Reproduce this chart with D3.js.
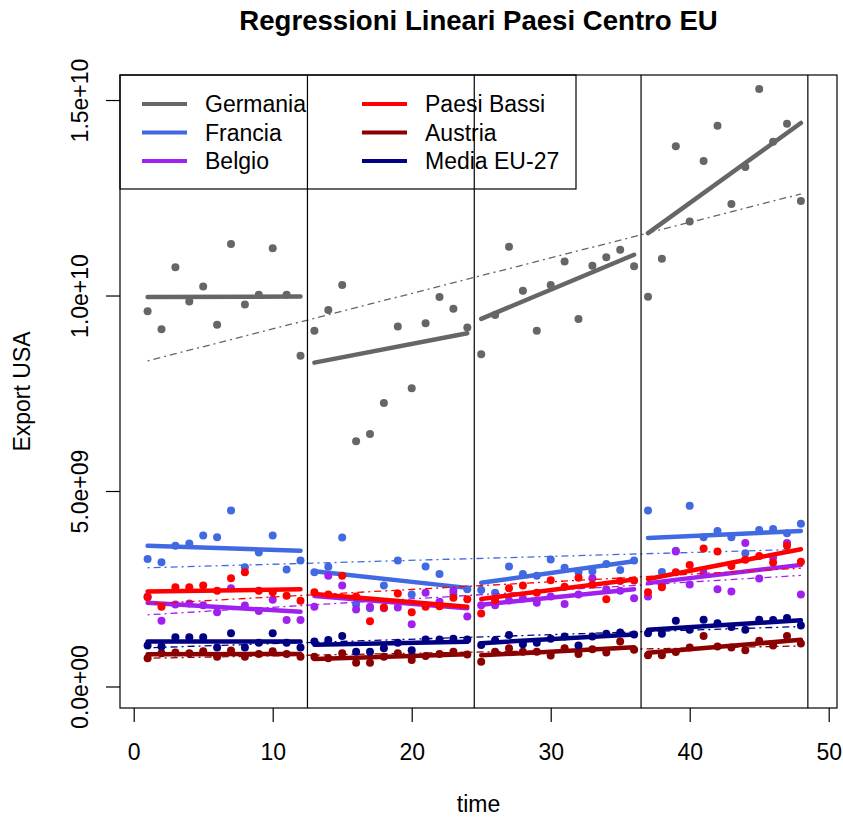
<!DOCTYPE html>
<html>
<head>
<meta charset="utf-8">
<script src="https://cdn.jsdelivr.net/npm/d3@7"></script>
<style>
  body { margin: 0; background: white; }
  text { font-family: "Liberation Sans", Arial, sans-serif; }
</style>
</head>
<body>
<div id="chart"></div>
<script>
// export values in billions (1e9)
const time = [1, 2, 3, 4, 5, 6, 7, 8, 9, 10, 11, 12,
  13, 14, 15, 16, 17, 18, 19, 20, 21, 22, 23, 24,
  25, 26, 27, 28, 29, 30, 31, 32, 33, 34, 35, 36,
  37, 38, 39, 40, 41, 42, 43, 44, 45, 46, 47, 48];

const germania = [9.60, 9.14, 10.72, 9.85, 10.23, 9.25, 11.32, 9.77, 10.02, 11.21, 10.02, 8.46,
  9.10, 9.63, 10.27, 6.27, 6.46, 7.25, 9.21, 7.63, 9.29, 9.96, 9.66, 9.18,
  8.50, 9.50, 11.25, 10.12, 9.10, 10.27, 10.87, 9.40, 10.76, 10.98, 11.17, 10.75,
  9.97, 10.94, 13.82, 11.89, 13.44, 14.34, 12.34, 13.29, 15.28, 13.93, 14.39, 12.42];

const francia = [3.26, 3.18, 3.60, 3.66, 3.86, 3.82, 4.50, 3.05, 3.43, 3.86, 2.99, 3.22,
  2.92, 3.06, 3.81, 2.10, 2.00, 2.58, 3.22, 2.35, 3.07, 2.88, 2.35, 2.49,
  2.47, 2.40, 3.07, 2.88, 2.83, 3.25, 3.04, 2.92, 2.95, 3.13, 2.98, 3.22,
  4.50, 2.93, 3.47, 4.62, 3.82, 3.98, 3.82, 3.41, 4.00, 4.03, 3.92, 4.16];

const belgio = [2.30, 1.68, 2.10, 2.12, 2.08, 1.90, 2.51, 2.07, 1.93, 2.22, 1.70, 1.70,
  2.04, 2.83, 2.58, 1.97, 2.04, 2.00, 2.02, 1.59, 2.40, 2.17, 2.45, 1.79,
  2.08, 2.08, 2.20, 2.25, 2.14, 2.30, 2.11, 2.35, 2.77, 2.49, 2.45, 2.26,
  2.30, 2.60, 3.45, 2.61, 2.90, 2.49, 2.43, 3.67, 2.76, 3.30, 3.67, 2.35];

const paesiBassi = [2.28, 2.04, 2.54, 2.54, 2.58, 2.45, 2.77, 2.92, 2.45, 2.41, 2.32, 2.19,
  2.41, 2.35, 2.83, 2.30, 1.67, 2.02, 2.38, 1.90, 2.04, 2.05, 2.27, 2.23,
  1.87, 2.20, 2.51, 2.58, 2.40, 2.72, 2.55, 2.78, 2.60, 2.23, 2.70, 2.71,
  2.41, 2.54, 2.92, 3.11, 3.53, 3.45, 3.08, 3.24, 3.34, 3.17, 3.60, 3.19];

const austria = [0.72, 0.85, 0.87, 0.85, 0.90, 0.76, 0.92, 0.76, 0.83, 0.90, 0.83, 0.76,
  0.76, 0.72, 0.85, 0.61, 0.61, 0.76, 0.85, 0.68, 0.78, 0.83, 0.89, 0.82,
  0.63, 0.89, 0.98, 0.89, 0.89, 0.79, 0.98, 0.83, 0.95, 0.87, 1.15, 0.94,
  0.80, 0.80, 0.88, 1.00, 1.29, 1.02, 1.00, 0.93, 1.17, 1.05, 1.29, 1.10];

const mediaEU = [1.05, 1.02, 1.26, 1.26, 1.26, 1.00, 1.36, 1.00, 1.12, 1.36, 1.12, 1.00,
  1.15, 1.19, 1.29, 0.89, 0.89, 0.98, 1.12, 0.93, 1.20, 1.20, 1.22, 1.20,
  1.06, 1.18, 1.32, 1.08, 1.12, 1.22, 1.28, 1.05, 1.28, 1.35, 1.38, 1.33,
  1.36, 1.35, 1.68, 1.45, 1.71, 1.62, 1.52, 1.45, 1.71, 1.70, 1.75, 1.56];

const seriesNames = ["Germania", "Francia", "Belgio", "Paesi Bassi", "Austria", "Media EU-27"];
const seriesValues = [germania, francia, belgio, paesiBassi, austria, mediaEU];
const seriesColors = ["#666666", "#4169E1", "#A020F0", "#FF0000", "#8B0000", "#000080"];

// periodi per le regressioni a tratti
const periods = [[1, 12], [13, 24], [25, 36], [37, 48]];
const breakLines = [12.5, 24.5, 36.5, 48.5];

const xTicks = [0, 10, 20, 30, 40, 50];
const yTicks = [0, 5, 10, 15];

const width = 843, height = 821;
const box = { left: 120, right: 837, top: 75, bottom: 708 };

const svg = d3.select("#chart").append("svg")
  .attr("width", width)
  .attr("height", height)
  .style("background", "white");

const x = d3.scaleLinear().domain([-0.986, 50.597]).range([box.left, box.right]);
const y = d3.scaleLinear().domain([-0.55, 15.64]).range([box.bottom, box.top]);

// minimi quadrati
function linFit(xs, ys) {
  const mx = d3.mean(xs), my = d3.mean(ys);
  let sxy = 0, sxx = 0;
  xs.forEach((xi, i) => { sxy += (xi - mx) * (ys[i] - my); sxx += (xi - mx) ** 2; });
  const b = sxy / sxx;
  return { a: my - b * mx, b: b };
}

// formato stile R: 1.5e+10
function sciFmt(v) {
  const s = (v * 1e9).toExponential(1);
  const [m, e] = s.split("e");
  const sign = e[0] === "-" ? "-" : "+";
  const digits = e.replace(/[+-]/, "").padStart(2, "0");
  return m + "e" + sign + digits;
}

const plot = svg.append("g");

seriesValues.forEach((vals, si) => {
  const col = seriesColors[si];
  const g = plot.append("g");

  g.selectAll("circle")
    .data(vals)
    .enter()
    .append("circle")
    .attr("cx", (d, i) => x(time[i]))
    .attr("cy", d => y(d))
    .attr("r", 4)
    .attr("fill", col);

  // regressioni per periodo
  periods.forEach(p => {
    const idx = time.map((t, i) => i).filter(i => time[i] >= p[0] && time[i] <= p[1]);
    const xs = idx.map(i => time[i]);
    const ys = idx.map(i => vals[i]);
    const fit = linFit(xs, ys);
    g.append("line")
      .attr("x1", x(p[0]))
      .attr("x2", x(p[1]))
      .attr("y1", y(fit.a + fit.b * p[0]))
      .attr("y2", y(fit.a + fit.b * p[1]))
      .attr("stroke", col)
      .attr("stroke-width", 4.5)
      .attr("stroke-linecap", "round");
  });

  // regressione globale
  const fitAll = linFit(time, vals);
  g.append("line")
    .attr("x1", x(time[0]))
    .attr("x2", x(time[time.length - 1]))
    .attr("y1", y(fitAll.a + fitAll.b * time[0]))
    .attr("y2", y(fitAll.a + fitAll.b * time[time.length - 1]))
    .attr("stroke", col)
    .attr("stroke-width", 1.3)
    .attr("stroke-dasharray", "2,4,7,4");
});

// linee verticali
plot.selectAll(".vline")
  .data(breakLines)
  .enter()
  .append("line")
  .attr("x1", d => x(d))
  .attr("x2", d => x(d))
  .attr("y1", box.top)
  .attr("y2", box.bottom)
  .attr("stroke", "black")
  .attr("stroke-width", 1.2);

// assi
const xAxis = svg.append("g")
  .attr("transform", `translate(0,${box.bottom})`)
  .call(d3.axisBottom(x).tickValues(xTicks).tickSize(14).tickFormat(d3.format("d")));
xAxis.select(".domain").remove();
xAxis.selectAll("line").attr("stroke", "black").attr("stroke-width", 1.2);
xAxis.selectAll("text")
  .attr("y", 36)
  .attr("fill", "black")
  .style("font-size", "23px");

const yAxis = svg.append("g")
  .attr("transform", `translate(${box.left},0)`)
  .call(d3.axisLeft(y).tickValues(yTicks).tickSize(14).tickFormat(sciFmt));
yAxis.select(".domain").remove();
yAxis.selectAll("line").attr("stroke", "black").attr("stroke-width", 1.2);
yAxis.selectAll("text")
  .attr("transform", "rotate(-90)")
  .attr("x", 0)
  .attr("y", -32)
  .attr("dy", 0)
  .attr("text-anchor", "middle")
  .attr("fill", "black")
  .style("font-size", "23px");

// box
svg.append("rect")
  .attr("x", box.left)
  .attr("y", box.top)
  .attr("width", box.right - box.left)
  .attr("height", box.bottom - box.top)
  .attr("fill", "none")
  .attr("stroke", "black")
  .attr("stroke-width", 1.2);

// legenda
const legend = svg.append("g");
legend.append("rect")
  .attr("x", box.left)
  .attr("y", box.top)
  .attr("width", 456)
  .attr("height", 114)
  .attr("fill", "none")
  .attr("stroke", "black")
  .attr("stroke-width", 1.2);

seriesNames.forEach((name, i) => {
  const col = Math.floor(i / 3), row = i % 3;
  const lx = col === 0 ? 142 : 362;
  const ly = 104 + row * 28.5;
  legend.append("line")
    .attr("x1", lx).attr("x2", lx + 45)
    .attr("y1", ly).attr("y2", ly)
    .attr("stroke", seriesColors[i])
    .attr("stroke-width", 4);
  legend.append("text")
    .attr("x", lx + 63)
    .attr("y", ly + 8)
    .style("font-size", "23px")
    .text(name);
});

// titoli
svg.append("text")
  .attr("x", (box.left + box.right) / 2)
  .attr("y", 30)
  .attr("text-anchor", "middle")
  .style("font-size", "27.6px")
  .style("font-weight", "bold")
  .text("Regressioni Lineari Paesi Centro EU");

svg.append("text")
  .attr("x", (box.left + box.right) / 2)
  .attr("y", 812)
  .attr("text-anchor", "middle")
  .style("font-size", "23px")
  .text("time");

svg.append("text")
  .attr("transform", `translate(30,${(box.top + box.bottom) / 2}) rotate(-90)`)
  .attr("text-anchor", "middle")
  .style("font-size", "23px")
  .text("Export USA");
</script>
</body>
</html>
